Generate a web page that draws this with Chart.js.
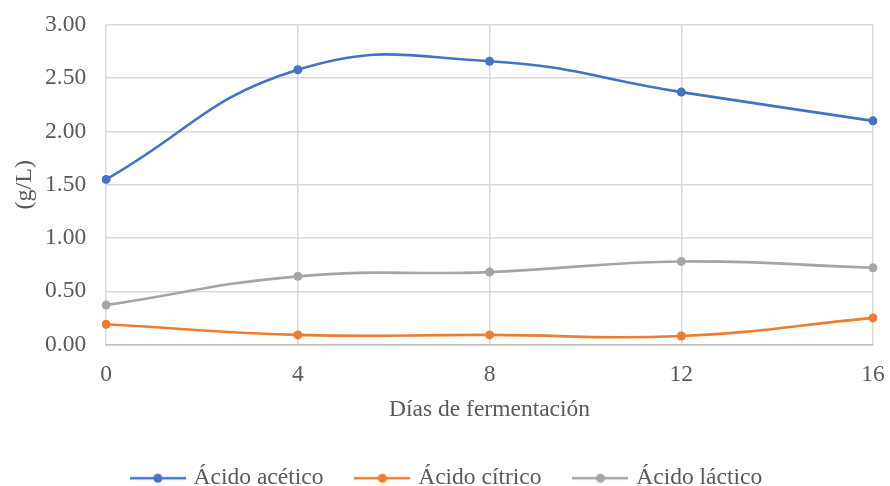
<!DOCTYPE html>
<html>
<head>
<meta charset="utf-8">
<script src="https://cdn.jsdelivr.net/npm/chart.js@4.4.1/dist/chart.umd.min.js"></script>
<style>
  html, body { margin: 0; padding: 0; background: #ffffff; }
  #wrap { width: 890px; height: 486px; }
</style>
</head>
<body>
<div id="wrap"><canvas id="chart" width="890" height="486"></canvas></div>
<script>
// Días de fermentación
const dias = ['0', '4', '8', '12', '16'];

// Concentraciones (g/L)
const acidoAcetico = [1.55, 2.58, 2.66, 2.37, 2.10];
const acidoCitrico = [0.19, 0.09, 0.09, 0.08, 0.25];
const acidoLactico = [0.37, 0.64, 0.68, 0.78, 0.72];

const nombres = ['Ácido acético', 'Ácido cítrico', 'Ácido láctico'];
const colores = ['#4472c4', '#ed7d31', '#a5a5a5'];

const FONT = '"Liberation Serif", "Times New Roman", serif';
const GRIS_TEXTO = '#595959';
const GRIS_REJILLA = '#d9d9d9';
const INVISIBLE = 'rgba(0,0,0,0)';

// Legend marker: short line with a dot in the middle
function marcadorLeyenda(color) {
  const c = document.createElement('canvas');
  c.width = 56; c.height = 12;
  const g = c.getContext('2d');
  g.strokeStyle = color;
  g.lineWidth = 2.5;
  g.beginPath(); g.moveTo(0, 6); g.lineTo(56, 6); g.stroke();
  g.fillStyle = color;
  g.beginPath(); g.arc(28, 6, 4.5, 0, Math.PI * 2); g.fill();
  return c;
}

function serie(i, datos) {
  return {
    label: nombres[i],
    data: datos,
    borderColor: colores[i],
    backgroundColor: colores[i],
    borderWidth: 2.6,
    pointRadius: 4.5,
    pointHoverRadius: 4.5,
    pointBorderWidth: 0,
    tension: 0.45,
    fill: false,
    pointStyle: 'circle'
  };
}

new Chart(document.getElementById('chart'), {
  type: 'line',
  data: {
    labels: dias,
    datasets: [
      serie(0, acidoAcetico),
      serie(1, acidoCitrico),
      serie(2, acidoLactico)
    ]
  },
  options: {
    responsive: false,
    animation: false,
    devicePixelRatio: 1,
    layout: { padding: { left: 23, right: 17, top: 25, bottom: -14 } },
    plugins: {
      tooltip: { enabled: false },
      legend: {
        position: 'bottom',
        labels: {
          usePointStyle: true,
          pointStyleWidth: 48,
          padding: 35,
          color: GRIS_TEXTO,
          font: { family: FONT, size: 23.5 },
          generateLabels(chart) {
            return chart.data.datasets.map((ds, i) => ({
              text: ds.label,
              fillStyle: ds.borderColor,
              strokeStyle: ds.borderColor,
              lineWidth: 0,
              pointStyle: marcadorLeyenda(ds.borderColor),
              datasetIndex: i,
              hidden: false,
              fontColor: GRIS_TEXTO
            }));
          }
        }
      }
    },
    scales: {
      x: {
        type: 'category',
        offset: false,
        grid: { color: GRIS_REJILLA, lineWidth: 1.5, drawTicks: true, tickLength: 12, tickColor: INVISIBLE },
        border: { color: '#bfbfbf', width: 1.5 },
        ticks: {
          color: GRIS_TEXTO,
          font: { family: FONT, size: 23.5 },
          padding: 4,
          maxRotation: 0
        },
        title: {
          display: true,
          text: 'Días de fermentación',
          color: GRIS_TEXTO,
          font: { family: FONT, size: 23.5 },
          padding: { top: 2.6, bottom: 8 }
        }
      },
      y: {
        min: 0,
        max: 3,
        grid: { color: GRIS_REJILLA, lineWidth: 1.5, drawTicks: true, tickLength: 16, tickColor: INVISIBLE },
        border: { display: false },
        ticks: {
          stepSize: 0.5,
          color: GRIS_TEXTO,
          font: { family: FONT, size: 23.5 },
          padding: 4,
          callback: v => Number(v).toFixed(2)
        },
        title: {
          display: true,
          text: '(g/L)',
          color: GRIS_TEXTO,
          font: { family: FONT, size: 24 },
          padding: { top: -12.4, bottom: 1.6 }
        }
      }
    }
  }
});
</script>
</body>
</html>
